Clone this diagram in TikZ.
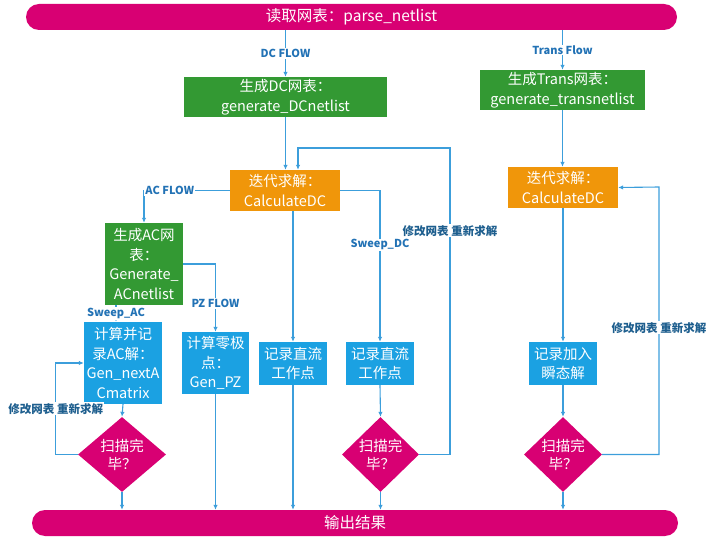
\documentclass[tikz,border=0pt]{standalone}
\usepackage{fontspec}
\setmainfont{Noto Sans CJK SC}
\usetikzlibrary{positioning,arrows.meta,shapes.geometric,calc}
\definecolor{mgt}{HTML}{D80073}
\definecolor{grn}{HTML}{339933}
\definecolor{org}{HTML}{F0960A}
\definecolor{cyn}{HTML}{1BA1E2}
\definecolor{linec}{HTML}{3C9EDB}
\definecolor{tagblue}{HTML}{2272B5}
\definecolor{tagdark}{HTML}{1D5E8E}
\newcommand{\nodefont}{\fontsize{14.5}{19.5}\selectfont}
\newcommand{\tagfont}{\fontsize{11}{13}\selectfont\bfseries}

\begin{document}
\begin{tikzpicture}[
   x=1pt,y=-1pt,
   bar/.style={fill=mgt,rounded corners=13pt,minimum height=26pt,text=white,font=\fontsize{15.5}{18}\selectfont},
   box/.style={fill=#1,text=white,align=center,inner sep=0pt,font=\nodefont},
   check/.style={diamond,fill=mgt,minimum height=73pt,inner sep=0pt,text=white,align=center,font=\fontsize{14.5}{18}\selectfont},
   flow/.style={draw=linec,line width=1.1pt,-{Latex[length=5pt,width=4.5pt]}},
   tag/.style={fill=white,inner sep=1pt,text=tagblue,font=\tagfont},
   redo/.style={tag,text=tagdark,font=\fontsize{11.5}{13}\selectfont\bfseries},
]
\useasboundingbox (0,0) rectangle (716,540);

\node[bar,minimum width=651pt] (parse) at (351.5,17) {读取网表：parse\_netlist};
\node[bar,minimum width=646pt] (out) at (355,523) {输出结果};

\node[box=grn,minimum width=203pt,minimum height=40pt] (dcnet) at (285.5,97)
   {生成DC网表：\\generate\_DCnetlist};
\node[box=grn,minimum width=165pt,minimum height=40pt] (trnet) at (562.5,90)
   {生成Trans网表：\\generate\_transnetlist};
\node[box=org,minimum width=110pt,minimum height=41pt] (calcdc) at (285,190.5)
   {迭代求解：\\CalculateDC};
\node[box=org,minimum width=110pt,minimum height=41pt] (calctr) at (563,187.5)
   {迭代求解：\\CalculateDC};
\node[box=grn,minimum width=78pt,minimum height=82pt] (acnet) at (144,264)
   {生成AC网\\表：\\Generate\_\\ACnetlist};
\node[box=cyn,minimum width=78pt,minimum height=82pt] (acsolve) at (123,363)
   {计算并记\\录AC解：\\Gen\_nextA\\Cmatrix};
\node[box=cyn,minimum width=67pt,minimum height=62pt] (pz) at (215.5,363)
   {计算零极\\点：\\Gen\_PZ};
\node[box=cyn,minimum width=68pt,minimum height=43pt] (dcop) at (293,363.5)
   {记录直流\\工作点};
\node[box=cyn,minimum width=68pt,minimum height=43pt] (sweepop) at (380,363.5)
   {记录直流\\工作点};
\node[box=cyn,minimum width=68pt,minimum height=43pt] (trrec) at (563,363.5)
   {记录加入\\瞬态解};
\node[check,minimum width=88pt] (acdone) at (122,454.5) {扫描完\\毕？};
\node[check,minimum width=77pt] (dcdone) at (380.5,454.5) {扫描完\\毕？};
\node[check,minimum width=78pt] (trdone) at (563,454.5) {扫描完\\毕？};

\coordinate (dcloop) at (450,148);
\coordinate (trloop) at (659,187);

% DC flow
\draw[flow] (dcnet.north |- parse.south) -- node[tag]{DC FLOW} (dcnet.north);
\draw[flow] (dcnet.south) -- (dcnet.south |- calcdc.north);
\draw[flow] (calcdc.west) -| node[tag,pos=0.35]{AC FLOW} (acnet.north);
\draw[flow] (acnet.east) -| node[tag,pos=0.79]{PZ FLOW} (pz.north);
\draw[flow] ([xshift=-28pt]acnet.south) -- node[tag]{Sweep\_AC} ([xshift=-28pt]acnet.south |- acsolve.north);
\draw[flow] (acsolve.south) -- (acdone.north);
\draw[flow] (acdone.west) -- ++(-22,0) |- node[redo,pos=0.25]{修改网表 重新求解} (acsolve.west);
\draw[flow] (acdone.south) -- (acdone.south |- out.north);
\draw[flow] (pz.south) -- (pz.south |- out.north);
\draw[flow] (dcop.north |- calcdc.south) -- (dcop.north);
\draw[flow] (dcop.south) -- (dcop.south |- out.north);
\draw[flow] (calcdc.east) -| node[tag,pos=0.68]{Sweep\_DC} (sweepop.north);
\draw[flow] (sweepop.south) -- (dcdone.north);
\draw[flow] (dcdone.south) -- (dcdone.south |- out.north);
\draw[flow] (dcdone.east) -| node[redo,pos=0.865]{修改网表 重新求解} (dcloop) -| ([xshift=13pt]calcdc.north);

% Trans flow
\draw[flow] (trnet.north |- parse.south) -- node[tag]{Trans Flow} (trnet.north);
\draw[flow] (trnet.south) -- (trnet.south |- calctr.north);
\draw[flow] (calctr.south) -- (trrec.north);
\draw[flow] (trrec.south) -- (trdone.north);
\draw[flow] (trdone.south) -- (trdone.south |- out.north);
\draw[flow] (trdone.east) -| node[redo,pos=0.737]{修改网表 重新求解} (trloop) -- (calctr.east);
\end{tikzpicture}
\end{document}
